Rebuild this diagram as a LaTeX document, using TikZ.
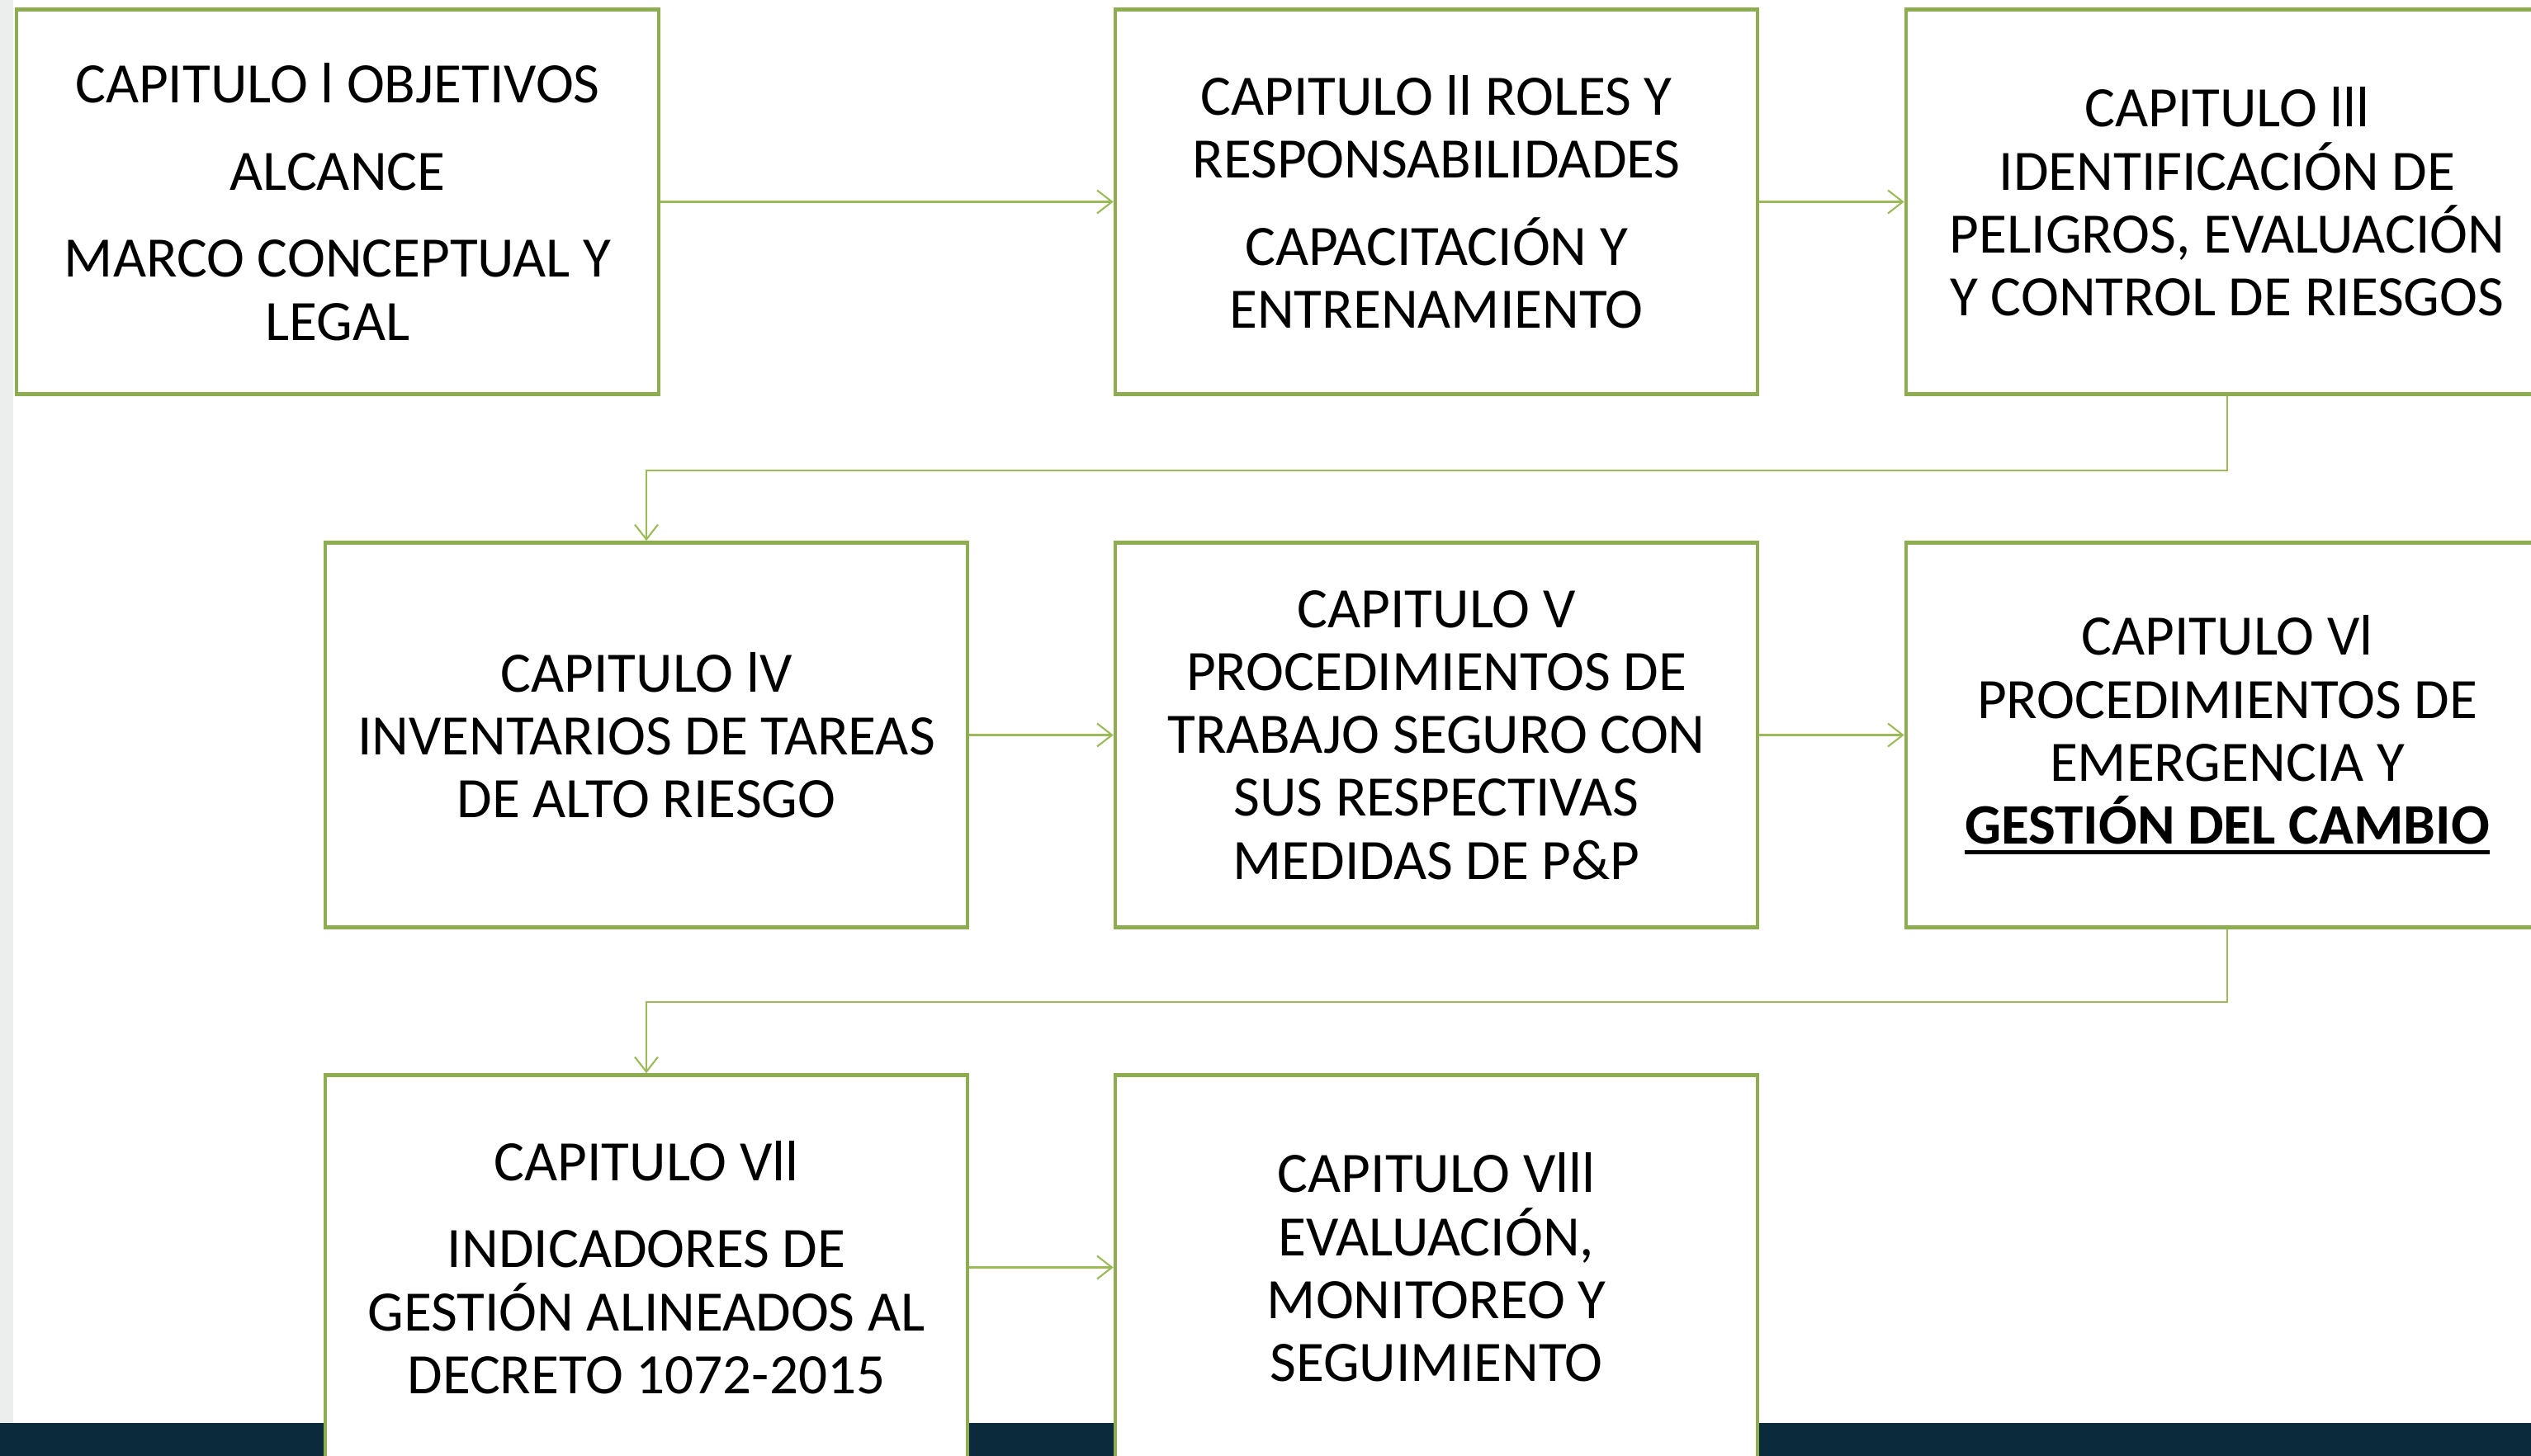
\documentclass[tikz,border=0pt]{standalone}
\usepackage{fontspec}
\setmainfont{Carlito}
\usepackage{tikz}
\usetikzlibrary{arrows.meta}
\definecolor{verde}{HTML}{8EAC50}
\definecolor{verdeclaro}{HTML}{9BBB59}
\definecolor{barra}{HTML}{0B2A3B}
\definecolor{gris}{HTML}{ECEEED}
\newsavebox{\textosub}
\newcommand{\subrayado}[1]{\sbox{\textosub}{#1}\mbox{\rlap{\usebox{\textosub}}\rule[-3.6pt]{\wd\textosub}{1.6pt}}}

\begin{document}
\begin{tikzpicture}[
    caja/.style={draw=verde, line width=1.3pt, fill=white, align=center,
        minimum width=7.78cm, minimum height=4.66cm, inner sep=0pt,
        font=\fontsize{19.7}{21.7}\selectfont},
    flecha/.style={verdeclaro, line width=0.6pt,
        -{Straight Barb[length=1.8mm,width=2.8mm]}}
]
            %fondo
            \clip (0,0) rectangle (30.66,-17.64);
            \fill[gris] (0,0) rectangle (0.16,-17.24);
            \fill[barra] (0,-17.24) rectangle (30.66,-17.64);
            %cajas
            \node[caja] (c1) at (4.09,-2.445) {CAPITULO l OBJETIVOS\\[8.4pt] ALCANCE\\[8.4pt] MARCO CONCEPTUAL Y\\ LEGAL};
            \node[caja] (c2) at (17.40,-2.445) {CAPITULO ll ROLES Y\\ RESPONSABILIDADES\\[8.4pt] CAPACITACIÓN Y\\ ENTRENAMIENTO};
            \node[caja] (c3) at (26.98,-2.445) {CAPITULO lll\\ IDENTIFICACIÓN DE\\ PELIGROS, EVALUACIÓN\\ Y CONTROL DE RIESGOS};
            \node[caja] (c4) at (7.83,-8.905) {CAPITULO lV\\ INVENTARIOS DE TAREAS\\ DE ALTO RIESGO};
            \node[caja] (c5) at (17.40,-8.905) {CAPITULO V\\ PROCEDIMIENTOS DE\\ TRABAJO SEGURO CON\\ SUS RESPECTIVAS\\ MEDIDAS DE P\&P};
            \node[caja] (c6) at (26.98,-8.905) {CAPITULO Vl\\ PROCEDIMIENTOS DE\\ EMERGENCIA Y\\ \subrayado{\textbf{GESTIÓN DEL CAMBIO}}};
            \node[caja] (c7) at (7.83,-15.355) {CAPITULO Vll\\[8.4pt] INDICADORES DE\\ GESTIÓN ALINEADOS AL\\ DECRETO 1072-2015};
            \node[caja] (c8) at (17.40,-15.355) {CAPITULO Vlll\\ EVALUACIÓN,\\ MONITOREO Y\\ SEGUIMIENTO};
            %flechas
            \draw[flecha] (c1) -- (c2);
            \draw[flecha] (c2) -- (c3);
            \draw[flecha] (c3.south) -- ++(0,-0.9) -| (c4.north);
            \draw[flecha] (c4) -- (c5);
            \draw[flecha] (c5) -- (c6);
            \draw[flecha] (c6.south) -- ++(0,-0.88) -| (c7.north);
            \draw[flecha] (c7) -- (c8);
\end{tikzpicture}
\end{document}
